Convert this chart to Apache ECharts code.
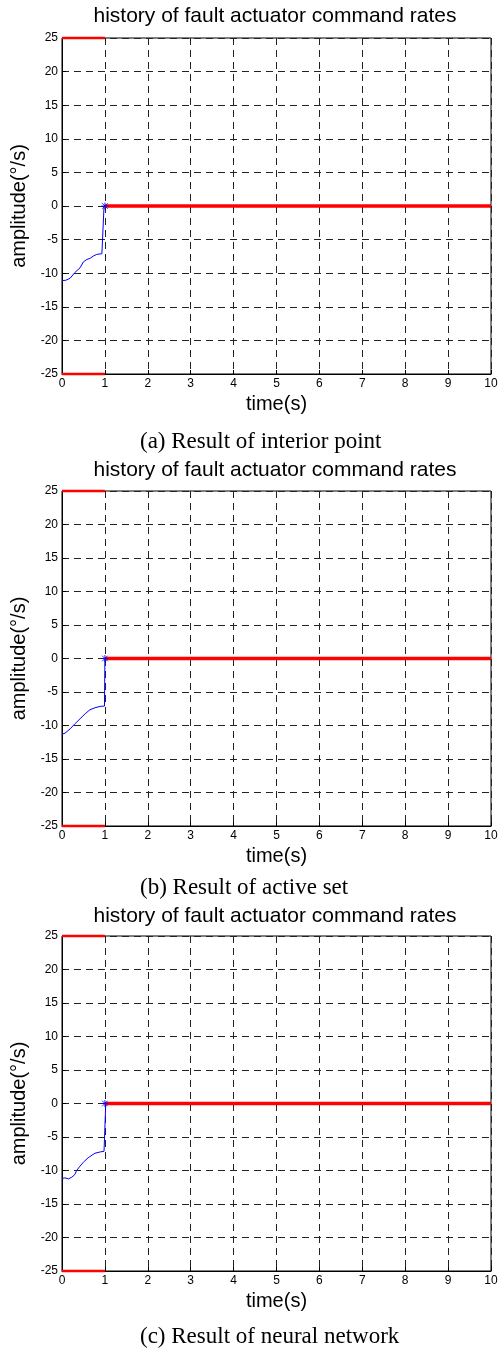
<!DOCTYPE html>
<html>
<head>
<meta charset="utf-8">
<script src="https://cdn.jsdelivr.net/npm/echarts@6/dist/echarts.min.js"></script>
<style>
html,body{margin:0;padding:0;background:#fff;}
#c{width:503px;height:1349px;}
</style>
</head>
<body>
<div id="c"></div>
<script>
// ---- data ----
const chartTitle = 'history of fault actuator command rates';
const captions = ['(a) Result of interior point', '(b) Result of active set', '(c) Result of neural network'];
const xTicks = [0, 1, 2, 3, 4, 5, 6, 7, 8, 9, 10];
const yTicks = [-25, -20, -15, -10, -5, 0, 5, 10, 15, 20, 25];

// blue: actual command rate (panel a)
const timeA = [0, 0.09, 0.19, 0.30, 0.42, 0.50, 0.58, 0.65, 0.73, 0.81, 0.93, 0.96, 0.98, 1.0];
const rateA = [-11.1, -11.05, -10.75, -9.9, -9.2, -8.3, -7.95, -7.8, -7.45, -7.2, -7.1, -7.05, 0, 0];
// panel b
const timeB = [0, 0.07, 0.19, 0.30, 0.42, 0.54, 0.65, 0.77, 0.89, 0.99, 1.0];
const rateB = [-11.3, -11.15, -10.5, -9.75, -9.0, -8.25, -7.65, -7.35, -7.15, -7.1, 0];
// panel c
const timeC = [0, 0.07, 0.15, 0.23, 0.30, 0.34, 0.42, 0.50, 0.54, 0.61, 0.70, 0.77, 0.88, 0.98, 1.02];
const rateC = [-11.2, -11.1, -11.25, -11.0, -10.6, -10.0, -9.35, -8.75, -8.5, -8.1, -7.7, -7.42, -7.25, -7.12, 0];

// red: rate limits / commanded values
const limitTime = [0, 1];
const upperLimit = [25, 25];
const lowerLimit = [-25, -25];
const faultTime = [1, 10];
const faultRate = [0, 0];

// ---- layout ----
const gridTops = [38, 491, 936];
const gridH = [336, 335, 335];
const gridLeft = 62, gridW = 429;
const titleY = [17, 471, 917];
const captionY = [442, 888, 1337];

const blueSets = [[timeA, rateA], [timeB, rateB], [timeC, rateC]];
const zip = (a, b) => a.map((v, i) => [v, b[i]]);

const grids = [], xAxes = [], yAxes = [], series = [], graphics = [];
const sans = 'Liberation Sans, Arial, sans-serif';
const gridLine = {show: true, lineStyle: {color: '#222', width: 1, type: [7, 5]}};

for (let k = 0; k < 3; k++) {
  grids.push({left: gridLeft, top: gridTops[k], width: gridW, height: gridH[k], show: true,
              borderColor: '#000', borderWidth: 1, backgroundColor: 'transparent'});
  xAxes.push({type: 'value', gridIndex: k, min: xTicks[0], max: xTicks[xTicks.length - 1], interval: 1,
    name: 'time(s)', nameLocation: 'middle', nameGap: 20,
    nameTextStyle: {fontFamily: sans, fontSize: 20, color: '#000', verticalAlign: 'top'},
    axisLine: {show: true, onZero: false, lineStyle: {color: '#000', width: 1}},
    axisTick: {show: true, inside: true, length: 4, lineStyle: {color: '#000'}},
    axisLabel: {fontFamily: sans, fontSize: 12, color: '#000', margin: 4},
    splitLine: gridLine});
  yAxes.push({type: 'value', gridIndex: k, min: yTicks[0], max: yTicks[yTicks.length - 1], interval: 5,
    name: 'amplitude(°/s)', nameLocation: 'middle', nameGap: 31,
    nameTextStyle: {fontFamily: sans, fontSize: 20, color: '#000'},
    axisLine: {show: true, onZero: false, lineStyle: {color: '#000', width: 1}},
    axisTick: {show: true, inside: true, length: 4, lineStyle: {color: '#000'}},
    axisLabel: {fontFamily: sans, fontSize: 12, color: '#000', margin: 4},
    splitLine: gridLine});
  series.push({type: 'line', xAxisIndex: k, yAxisIndex: k, data: zip(blueSets[k][0], blueSets[k][1]),
    showSymbol: false, lineStyle: {color: '#0000ff', width: 1}, z: 3, silent: true});
  series.push({type: 'line', xAxisIndex: k, yAxisIndex: k, data: zip(faultTime, faultRate),
    showSymbol: false, lineStyle: {color: '#ff0000', width: 3.5}, z: 4, silent: true});
  series.push({type: 'line', xAxisIndex: k, yAxisIndex: k, data: zip(limitTime, upperLimit), clip: false,
    showSymbol: false, lineStyle: {color: '#ff0000', width: 2.5}, z: 4, silent: true});
  series.push({type: 'line', xAxisIndex: k, yAxisIndex: k, data: zip(limitTime, lowerLimit), clip: false,
    showSymbol: false, lineStyle: {color: '#ff0000', width: 2.5}, z: 4, silent: true});
  series.push({type: 'scatter', xAxisIndex: k, yAxisIndex: k, data: [[1, 0]], symbol: 'path://M0,5L10,5M5,0L5,10M1,1L9,9M9,1L1,9',
    symbolSize: 7, itemStyle: {color: 'none', borderColor: '#0000ff', borderWidth: 1}, z: 5, silent: true});

  graphics.push({type: 'text', left: 276.5 - 183, top: titleY[k] - 11,
    style: {text: chartTitle, font: '21px ' + sans, fill: '#000'}});
  graphics.push({type: 'text', left: 270 - 130, top: captionY[k] - 12,
    style: {text: captions[k], font: '23px "Liberation Serif", "Times New Roman", serif', fill: '#000'}});
}

const chart = echarts.init(document.getElementById('c'), null, {renderer: 'canvas'});
chart.setOption({
  animation: false,
  backgroundColor: '#fff',
  grid: grids, xAxis: xAxes, yAxis: yAxes, series: series, graphic: graphics
});
</script>
</body>
</html>
